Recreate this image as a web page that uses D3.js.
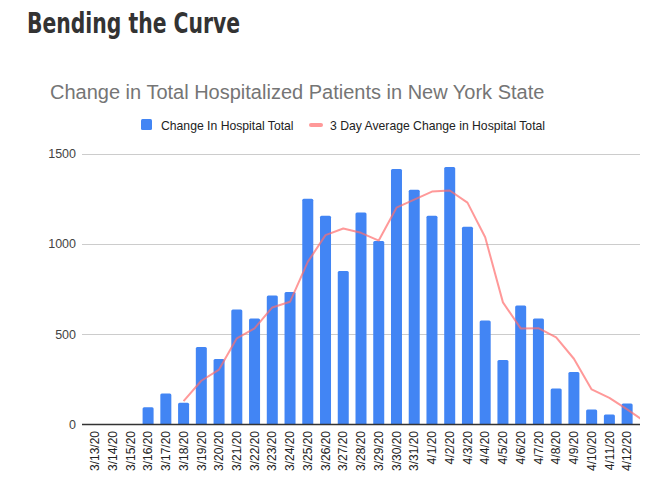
<!DOCTYPE html>
<html>
<head>
<meta charset="utf-8">
<script src="https://cdn.jsdelivr.net/npm/d3@7"></script>
<style>
    body { margin: 0; background: #fff; }
    text { font-family: Arial, 'Liberation Sans', sans-serif; }
</style>
</head>
<body>
<svg id="chart" width="669" height="500"></svg>
<script>
const DATES = ['3/13/20', '3/14/20', '3/15/20', '3/16/20', '3/17/20', '3/18/20', '3/19/20', '3/20/20',
    '3/21/20', '3/22/20', '3/23/20', '3/24/20', '3/25/20', '3/26/20', '3/27/20', '3/28/20', '3/29/20',
    '3/30/20', '3/31/20', '4/1/20', '4/2/20', '4/3/20', '4/4/20', '4/5/20', '4/6/20', '4/7/20',
    '4/8/20', '4/9/20', '4/10/20', '4/11/20', '4/12/20'];

const CHANGE = [0, 0, 0, 95, 171, 121, 429, 363, 637, 587, 714, 734, 1250, 1156, 850, 1174, 1016,
    1414, 1299, 1156, 1425, 1095, 576, 357, 659, 587, 199, 291, 83, 55, 116];

// 3 day average, starts at 3/18
const AVG = [null, null, null, null, null, 129, 242, 304, 477, 532, 648, 679, 900, 1048, 1085, 1061, 1018,
    1200, 1245, 1289, 1295, 1228, 1036, 676, 532, 533, 482, 364, 194, 147, 84];
// next point (off the chart, gets clipped)
const AVG_NEXT = 16;

const Y_TICKS = [0, 500, 1000, 1500];

const svg = d3.select('#chart');

svg.append('text')
    .attr('x', 27).attr('y', 33)
    .attr('textLength', 213).attr('lengthAdjust', 'spacingAndGlyphs')
    .style('font-family', "'Liberation Sans Narrow', 'DejaVu Sans Condensed', sans-serif")
    .style('font-weight', 'bold').style('font-size', '28px')
    .attr('fill', '#333')
    .text('Bending the Curve');

svg.append('text')
    .attr('x', 50).attr('y', 99)
    .style('font-size', '20px')
    .attr('fill', '#757575')
    .text('Change in Total Hospitalized Patients in New York State');

// legend
const legend = svg.append('g');
legend.append('rect')
    .attr('x', 141).attr('y', 119).attr('width', 11).attr('height', 11).attr('rx', 1.5)
    .attr('fill', '#4285f4');
legend.append('text')
    .attr('x', 161).attr('y', 129.5)
    .style('font-size', '12.2px').attr('fill', '#222')
    .text('Change In Hospital Total');
legend.append('line')
    .attr('x1', 311).attr('x2', 321).attr('y1', 125).attr('y2', 125)
    .attr('stroke', '#ff9999').attr('stroke-width', 4).attr('stroke-linecap', 'round');
legend.append('text')
    .attr('x', 330).attr('y', 129.5)
    .style('font-size', '12.2px').attr('fill', '#222')
    .text('3 Day Average Change in Hospital Total');

// scales
const x = d3.scaleBand().domain(DATES).range([86, 636]).paddingInner(0.38).paddingOuter(0.19);
const y = d3.scaleLinear().domain([0, 1500]).range([424.5, 153.5]);
const cx = d => x(d) + x.bandwidth() / 2;

// grid
svg.append('g').selectAll('line')
    .data(Y_TICKS.filter(d => d > 0))
    .join('line')
    .attr('x1', 82).attr('x2', 640)
    .attr('y1', d => Math.round(y(d)) + 0.5).attr('y2', d => Math.round(y(d)) + 0.5)
    .attr('stroke', '#cccccc');

svg.append('g').selectAll('text')
    .data(Y_TICKS)
    .join('text')
    .attr('x', 76).attr('y', d => y(d))
    .attr('dy', '0.35em').attr('text-anchor', 'end')
    .style('font-size', '12.5px').attr('fill', '#444')
    .text(d => d);

// bars
svg.append('g').selectAll('path')
    .data(DATES.map((d, i) => ({ date: d, v: CHANGE[i] })).filter(d => d.v > 0))
    .join('path')
    .attr('d', d => {
        const x0 = x(d.date), w = x.bandwidth(), y0 = y(0), y1 = y(d.v), r = 1.5;
        return `M${x0},${y0}V${y1 + r}Q${x0},${y1} ${x0 + r},${y1}H${x0 + w - r}Q${x0 + w},${y1} ${x0 + w},${y1 + r}V${y0}Z`;
    })
    .attr('fill', '#4285f4');

// zero axis
svg.append('line')
    .attr('x1', 82).attr('x2', 640)
    .attr('y1', y(0)).attr('y2', y(0))
    .attr('stroke', '#333').attr('stroke-width', 1.3);

// avg line
svg.append('clipPath').attr('id', 'plot-clip')
    .append('rect').attr('x', 82).attr('y', 140).attr('width', 558).attr('height', 290);

const pts = DATES.map((d, i) => [cx(d), AVG[i]]).filter(p => p[1] != null);
pts.push([cx(DATES[DATES.length - 1]) + x.step(), AVG_NEXT]);

svg.append('path')
    .datum(pts)
    .attr('clip-path', 'url(#plot-clip)')
    .attr('d', d3.line().x(p => p[0]).y(p => y(p[1])))
    .attr('fill', 'none')
    .attr('stroke', '#ff6d6d').attr('stroke-opacity', 0.7)
    .attr('stroke-width', 2).attr('stroke-linejoin', 'round');

// x labels
svg.append('g').selectAll('text')
    .data(DATES)
    .join('text')
    .attr('transform', d => `translate(${cx(d)},431) rotate(-90)`)
    .attr('dy', '0.35em').attr('text-anchor', 'end')
    .style('font-size', '12px').attr('fill', '#222')
    .text(d => d);
</script>
</body>
</html>
